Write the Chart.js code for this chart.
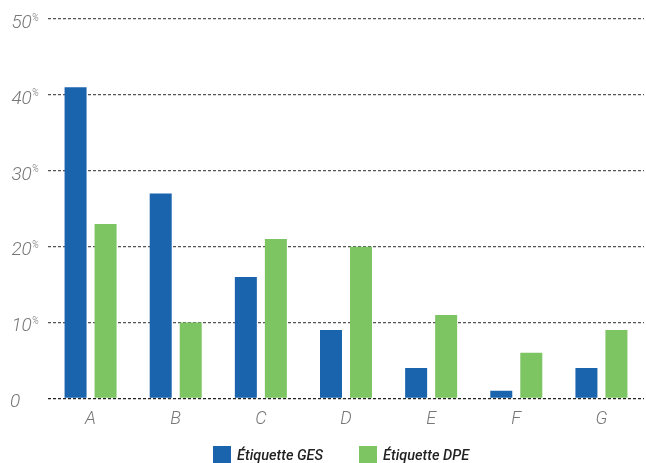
<!DOCTYPE html>
<html>
<head>
<meta charset="utf-8">
<script src="https://cdn.jsdelivr.net/npm/chart.js@4.4.0/dist/chart.umd.min.js"></script>
<style>
  html, body { margin: 0; padding: 0; background: #fff; }
  #wrap { width: 646px; height: 463px; position: relative; }
</style>
</head>
<body>
<div id="wrap"><canvas id="chart"></canvas></div>
<script>
const categories = ['A', 'B', 'C', 'D', 'E', 'F', 'G'];
const ges_values = [41, 27, 16, 9, 4, 1, 4];
const dpe_values = [23, 10, 21, 20, 11, 6, 9];
const y_ticks = [0, 10, 20, 30, 40, 50];

// y labels drawn by hand so the % can sit small and raised
const yLabels = {
    id: 'yLabels',
    afterDraw(chart) {
        const ctx = chart.ctx;
        const y = chart.scales.y;
        ctx.save();
        ctx.fillStyle = '#777';
        ctx.textBaseline = 'middle';
        y_ticks.forEach(v => {
            const py = y.getPixelForValue(v) + 4;
            if (v === 0) {
                ctx.font = 'italic 300 19px Roboto';
                ctx.textAlign = 'left';
                ctx.fillText('0', 10, py);
                return;
            }
            ctx.font = 'italic 300 10px Roboto';
            ctx.textAlign = 'right';
            ctx.fillText('%', 39, py - 5);
            const w = ctx.measureText('%').width;
            ctx.font = 'italic 300 19px Roboto';
            ctx.fillText(String(v), 39 - w, py);
        });
        ctx.restore();
    }
};

// legend drawn by hand: wider gap between the two items than the built-in one allows
const bottomLegend = {
    id: 'bottomLegend',
    afterDraw(chart) {
        const ctx = chart.ctx;
        const xs = [213, 359];
        const cy = 455;
        ctx.save();
        ctx.font = 'italic 500 14.5px Roboto';
        ctx.textBaseline = 'middle';
        ctx.textAlign = 'left';
        chart.data.datasets.forEach((ds, i) => {
            ctx.fillStyle = ds.backgroundColor;
            ctx.fillRect(xs[i], cy - 9, 18, 18);
            ctx.fillStyle = '#222';
            ctx.fillText(ds.label, xs[i] + 24, cy + 1);
        });
        ctx.restore();
    }
};

new Chart(document.getElementById('chart'), {
    type: 'bar',
    data: {
        labels: categories,
        datasets: [{
            label: 'Étiquette GES',
            data: ges_values,
            backgroundColor: '#1a64ae',
            categoryPercentage: 0.705,
            barPercentage: 0.733
        }, {
            label: 'Étiquette DPE',
            data: dpe_values,
            backgroundColor: '#7dc462',
            categoryPercentage: 0.705,
            barPercentage: 0.733
        }]
    },
    options: {
        responsive: true,
        maintainAspectRatio: false,
        animation: false,
        layout: { padding: { left: 48, top: 19, right: 2, bottom: 31 } },
        scales: {
            x: {
                grid: { display: false },
                border: { display: false },
                ticks: { color: '#777', font: { family: 'Roboto', style: 'italic', weight: '300', size: 18 }, padding: 2 }
            },
            y: {
                min: 0,
                max: 50,
                ticks: { stepSize: 10, display: false },
                grid: {
                    drawTicks: false,
                    color: ctx => ctx.tick.value === 0 ? '#222' : '#555',
                    lineWidth: 1.2
                },
                border: { display: false, dash: [3, 2] }
            }
        },
        plugins: {
            legend: { display: false },
            tooltip: { enabled: false }
        }
    },
    plugins: [yLabels, bottomLegend]
});
</script>
</body>
</html>
